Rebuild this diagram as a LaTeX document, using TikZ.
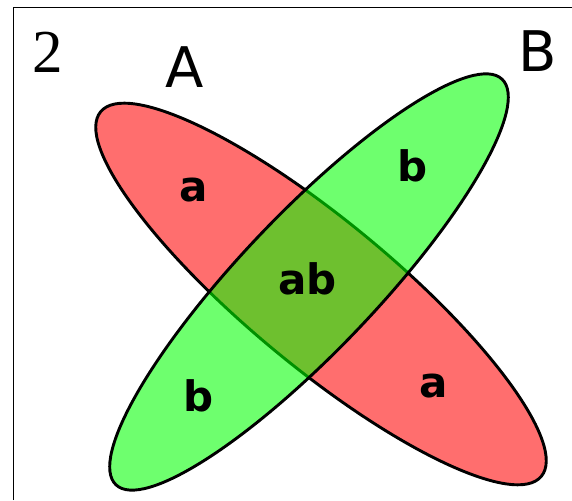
\documentclass[tikz,border=0pt]{standalone}
\usepackage{fontspec}
\usepackage{tikz}

\newfontfamily\labelfont{DejaVu Sans}
\newfontfamily\numfont{Liberation Serif}
\definecolor{setred}{RGB}{255,110,110}

\begin{document}
\begin{tikzpicture}[
    x=1pt, y=1pt,
    set/.style={line width=2.9pt},
    region/.style={font=\labelfont\bfseries\fontsize{42}{42}\selectfont, anchor=base, inner sep=0pt},
    setname/.style={font=\labelfont\fontsize{56}{56}\selectfont, anchor=base, inner sep=0pt}
]
\useasboundingbox (0,0) rectangle (572,500);
\draw[line width=1pt] (13,0) -- (13,492) -- (572,492);

\draw[set, fill=setred, rotate around={-39.6:(321,206)}] (321,206) ellipse (286pt and 73pt);
\draw[set, fill=green, fill opacity=0.57, rotate around={46.4:(309,218)}] (309,218) ellipse (280pt and 68pt);

\node[region] (a1) at (194,298) {a};
\node[region] (b1) at (413,318) {b};
\node[region] (ab) at (307.5,205) {ab};
\node[region] (b2) at (198.5,88) {b};
\node[region] (a2) at (434,102) {a};

\node[setname] (nameA) at (185,412) {A};
\node[setname] (nameB) at (538,428) {B};
\node[font=\numfont\fontsize{61}{61}\selectfont, anchor=base, inner sep=0pt] (num) at (48,427) {2};
\end{tikzpicture}
\end{document}
